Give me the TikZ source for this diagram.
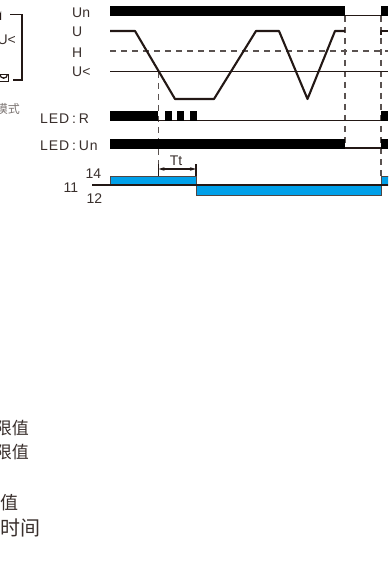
\documentclass[tikz,border=0pt]{standalone}
\usepackage{fontspec}
\setmainfont{Liberation Sans}
\newfontfamily\cjk{Noto Sans CJK SC}
\newfontfamily\spaced[LetterSpace=6]{Liberation Sans}
\usetikzlibrary{arrows.meta}
\definecolor{ink}{HTML}{231815}
\definecolor{relay}{HTML}{00A0E9}
\tikzset{
  x=1pt,y=-1pt,
  lab/.style={inner sep=0pt,font=\fontsize{14}{16}\selectfont,text=ink!90},
  bar/.style={fill=black,draw=none},
  thin line/.style={draw=ink,line width=1.2pt},
  trace/.style={draw=ink,line width=2.1pt,line join=round},
  dash line/.style={draw=ink!75,line width=1.4pt,dash pattern=on 6pt off 5pt},
  pulse/.style={fill=relay,draw=ink!80,line width=0.8pt},
  cnsmall/.style={inner sep=0pt,anchor=east,font=\cjk\fontsize{17}{19}\selectfont,text=ink!90},
}
\begin{document}
\begin{tikzpicture}
\useasboundingbox (0,0) rectangle (388,567);
\clip (0,0) rectangle (388,567);
% left fragment
\draw[thin line] (10,14.5) -- (22,14.5) -- (22,80) -- (13,80);
\node[lab,anchor=east] (uleft) at (16,40) {U<};
\draw[thin line] (0.5,20) -- (0.5,14) arc[start angle=0,end angle=90,radius=4];
\draw[thin line] (-2,74.5) rectangle (8.5,81.5);
\draw[thin line] (0,74.5) arc[start angle=180,end angle=0,radius=3.7];
\fill[ink] (3.5,78) circle (0.9);
\node[inner sep=0pt,anchor=east,font=\cjk\fontsize{12}{14}\selectfont,text=ink!60] (mode) at (20,109) {模式};
% labels
\node[lab,anchor=west] (lUn) at (72,13) {Un};
\node[lab,anchor=west] (lU) at (72,32) {U};
\node[lab,anchor=west] (lH) at (72,53) {H};
\node[lab,anchor=west] (lUl) at (72,72) {U<};
\node[lab,anchor=west] (lLR) at (40,119) {\spaced LED\kern3pt:\kern3pt R};
\node[lab,anchor=west] (lLU) at (40,145.5) {\spaced LED\kern3pt:\kern3pt Un};
\node[lab] (l14) at (93.5,174) {14};
\node[lab] (l12) at (94.5,199) {12};
\node[lab] (l11) at (71,187.5) {11};
% dashed verticals
\draw[dash line] (158.5,72) -- (158.5,176);
\draw[dash line] (345,16) -- (345,148);
\draw[dash line] (381,16) -- (381,176);
% Un row
\fill[bar] (110,6) rectangle (345,16);
\draw[thin line] (345,15.5) -- (381,15.5);
\fill[bar] (381,6) rectangle (388,16);
% thresholds
\draw[dash line] (110,51) -- (388,51);
\draw[thin line] (110,71.5) -- (388,71.5);
% U trace
\draw[trace] (110,31) -- (135,31) -- (175,99) -- (214,99) -- (256,31) -- (279,31) -- (307.5,99) -- (335,31) -- (345,31);
\draw[trace] (381,35) -- (381,31) -- (388,31);
% LED R
\draw[thin line] (158,120.5) -- (388,120.5);
\fill[bar] (110,111) rectangle (158,121);
\fill[bar] (165,111) rectangle (172,121);
\fill[bar] (177,111) rectangle (184,121);
\fill[bar] (190,111) rectangle (197,121);
\fill[bar] (381,111) rectangle (388,121);
% LED Un
\fill[bar] (110,139) rectangle (345,149);
\draw[thin line] (345,148) -- (381,148);
\fill[bar] (381,139) rectangle (388,149);
% relay
\draw[pulse] (110,176) rectangle (196,185);
\draw[pulse] (196,185) rectangle (381,195);
\draw[pulse] (381,176) rectangle (390,185);
\draw[thin line] (92,185) -- (388,185);
% Tt
\draw[thin line] (158.5,164) -- (158.5,176);
\draw[thin line] (196,164) -- (196,176);
\coordinate (tA) at (158.5,169);
\coordinate (tB) at (196,169);
\draw[thin line,{Stealth[length=6pt,width=3.5pt]}-{Stealth[length=6pt,width=3.5pt]}] (tA) -- (tB);
\node[lab] (tt) at (176,160.5) {Tt};
% bottom fragments
\node[cnsmall] (a) at (29,428) {限值};
\node[cnsmall] (b) at (29,452) {限值};
\node[inner sep=0pt,anchor=east,font=\cjk\fontsize{18}{20}\selectfont,text=ink!90] (c) at (19,503) {值};
\node[inner sep=0pt,anchor=east,font=\cjk\fontsize{20}{22}\selectfont,text=ink!90] (d) at (41,528) {时间};
\end{tikzpicture}
\end{document}
